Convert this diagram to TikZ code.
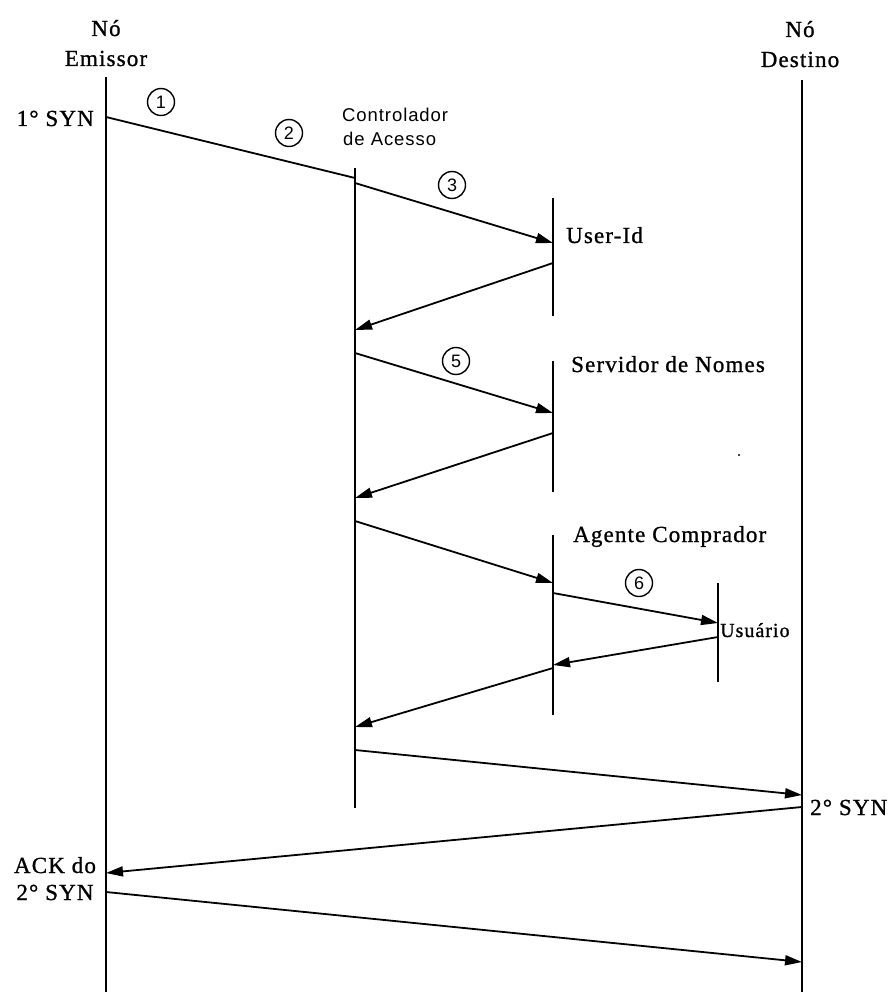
\documentclass[tikz,border=0pt]{standalone}
\usepackage{fontspec}
\setmainfont{Liberation Serif}[LetterSpace=5,FakeBold=1]
\newfontfamily\arialfont{Liberation Sans}[LetterSpace=5]
\newfontfamily\digitfont{Liberation Sans}
\usetikzlibrary{arrows.meta}
\begin{document}
\begin{tikzpicture}[x=1pt,y=-1pt,
  life/.style={line width=1.6pt},
  msg/.style={line width=1.8pt},
  arr/.style={msg,-{Triangle[length=17pt,width=10pt]}},
  circnum/.style={circle,draw,line width=1.4pt,inner sep=0pt,minimum size=27pt,font=\digitfont\fontsize{18}{18}\selectfont},
  serif/.style={inner sep=0pt,font=\fontsize{23}{26}\selectfont},
  smallserif/.style={inner sep=0pt,font=\fontsize{20}{22}\selectfont},
  sanslbl/.style={inner sep=0pt,font=\arialfont\fontsize{18.5}{22}\selectfont}]
\useasboundingbox (0,0) rectangle (887,992);

% lifelines
\coordinate (Et) at (106,77);   \coordinate (Eb) at (106,992);
\coordinate (Dt) at (802,80);   \coordinate (Db) at (802,992);
\coordinate (Ct) at (355,168);  \coordinate (Cb) at (355,808);
\coordinate (Ut) at (553,198);  \coordinate (Ub) at (553,316);
\coordinate (St) at (553,361);  \coordinate (Sb) at (553,492);
\coordinate (At) at (553,535);  \coordinate (Ab) at (553,715);
\coordinate (Qt) at (718,583);  \coordinate (Qb) at (718,682);
\foreach \a/\b in {Et/Eb,Dt/Db,Ct/Cb,Ut/Ub,St/Sb,At/Ab,Qt/Qb}
  \draw[life] (\a) -- (\b);

% message end points
\coordinate (m1a) at (106,117); \coordinate (m1b) at (355,178);
\coordinate (m2a) at (355,183); \coordinate (m2b) at (553,243);
\coordinate (m3a) at (553,263); \coordinate (m3b) at (355,330);
\coordinate (m4a) at (355,353); \coordinate (m4b) at (553,413);
\coordinate (m5a) at (553,433); \coordinate (m5b) at (355,498);
\coordinate (m6a) at (355,521); \coordinate (m6b) at (553,583);
\coordinate (m7a) at (553,593); \coordinate (m7b) at (718,623);
\coordinate (m8a) at (718,637); \coordinate (m8b) at (553,665);
\coordinate (m9a) at (553,668); \coordinate (m9b) at (355,727);
\coordinate (m10a) at (355,750); \coordinate (m10b) at (802,795);
\coordinate (m11a) at (802,807); \coordinate (m11b) at (106,873);
\coordinate (m12a) at (106,892); \coordinate (m12b) at (802,962);

\draw[msg] (m1a) -- (m1b);
\foreach \i in {2,...,12}
  \draw[arr] (m\i a) -- (m\i b);

% circled numbers
\node[circnum] (c1) at (161,102) {1};
\node[circnum] (c2) at (289,133) {2};
\node[circnum] (c3) at (452,185) {3};
\node[circnum] (c5) at (456,361) {5};
\node[circnum] (c6) at (639,583) {6};

% titles
\node[serif,anchor=base] (te1) at (106,36) {Nó};
\node[serif,anchor=base] (te2) at (106,66) {Emissor};
\node[serif,anchor=base] (td1) at (800,37) {Nó};
\node[serif,anchor=base] (td2) at (800,67) {Destino};

% labels
\node[serif,anchor=base east] (syn1) at (94,126) {1° SYN};
\node[sanslbl,anchor=base west] (ctl1) at (342,122) {Controlador};
\node[sanslbl,anchor=base west] (ctl2) at (343,146) {de Acesso};
\node[serif,anchor=base west] (uid) at (566,243) {User-Id};
\node[serif,anchor=base west] (srv) at (571,372) {Servidor de Nomes};
\node[serif,anchor=base west] (agt) at (573,542) {Agente Comprador};
\node[smallserif,anchor=base west] (usr) at (720,637) {Usuário};
\node[serif,anchor=base west] (syn2) at (810,815) {2° SYN};
\node[serif,anchor=base] (ack1) at (55,873) {ACK do};
\node[serif,anchor=base] (ack2) at (55,900) {2° SYN};

% stray dot
\fill (739,455) circle (1.2pt);
\end{tikzpicture}
\end{document}
